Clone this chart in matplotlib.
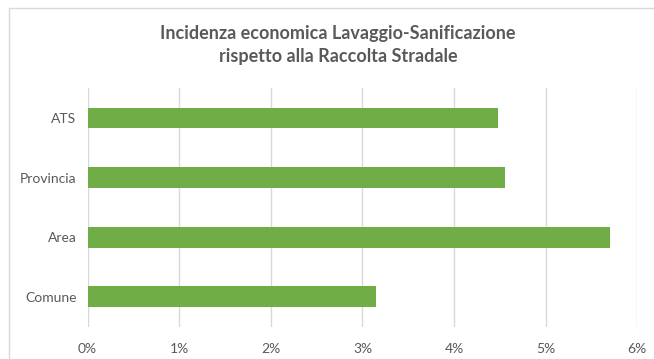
import matplotlib
matplotlib.use('Agg')
import matplotlib.pyplot as plt
from matplotlib.patches import Rectangle
from matplotlib.ticker import FuncFormatter

##------------data-----------------##
categories = ['Comune', 'Area', 'Provincia', 'ATS']
values = [3.15, 5.70, 4.56, 4.48]  # percent
x_ticks = [0, 1, 2, 3, 4, 5, 6]
title = 'Incidenza economica Lavaggio-Sanificazione\nrispetto alla Raccolta Stradale'

##------------figure-----------------##
plt.rcParams['font.family'] = ['Lato', 'DejaVu Sans']
txt_col = '#595959'
bar_col = '#70ad47'
grid_col = '#d9d9d9'

fig = plt.figure(figsize=(6.54, 3.59), dpi=100)
W, H = 654, 359
ax = fig.add_axes([87.6/W, (H-326.5)/H, (637.3-87.6)/W, (326.5-88.3)/H])

ax.barh(range(len(categories)), values, height=0.35, color=bar_col, zorder=3)
ax.set_xlim(0, 6)
ax.set_ylim(-0.5, len(categories)-0.5)
ax.set_xticks(x_ticks)
ax.xaxis.set_major_formatter(FuncFormatter(lambda v, p: '%d%%' % v))
ax.set_yticks(range(len(categories)))
ax.set_yticklabels(categories)
ax.tick_params(axis='both', length=0, colors=txt_col, labelsize=10)
ax.tick_params(axis='x', pad=12)
ax.tick_params(axis='y', pad=8)
ax.grid(axis='x', color=grid_col, linewidth=1, zorder=0)
for s in ax.spines.values():
    s.set_visible(False)

fig.text(338/W, 1-45/H, title, ha='center', va='center', fontsize=13,
         fontweight='bold', color=txt_col, linespacing=1.45)

# outer chart border (cropped at right and bottom)
fig.patches.append(Rectangle((9/W, -0.1), 1.0, 1-7.5/H+0.1, transform=fig.transFigure,
                             fill=False, edgecolor=grid_col, linewidth=1))

plt.savefig('out.png', dpi=100)
